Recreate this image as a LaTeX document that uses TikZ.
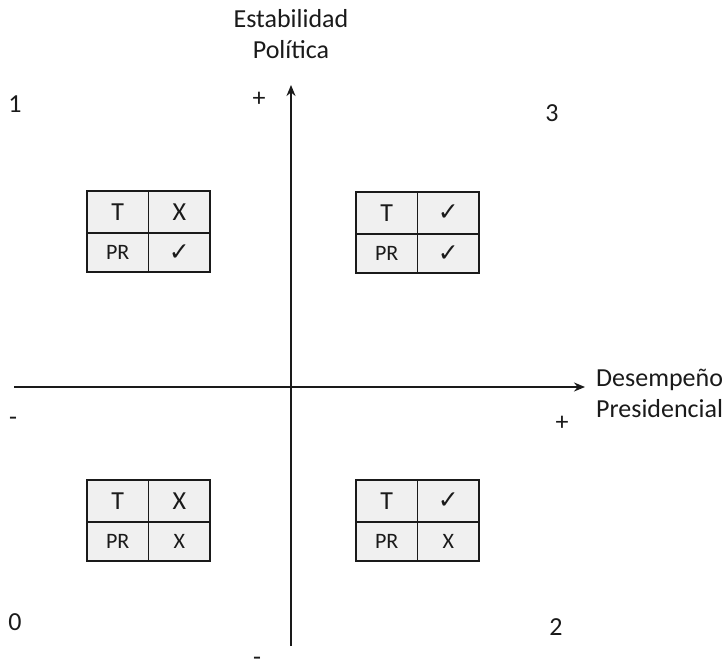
\documentclass[tikz,border=0pt]{standalone}
\usepackage{fontspec}
\setmainfont{Carlito}
\newfontfamily\symfont{DejaVu Sans}
\usetikzlibrary{arrows.meta}
\definecolor{cellgray}{HTML}{F0F0F0}
\definecolor{inkgray}{HTML}{1A1A1A}
\tikzset{
  lbl/.style={font=\fontsize{26}{31}\selectfont, text=inkgray, inner sep=0pt},
  cellbox/.style={draw=inkgray, fill=cellgray, line width=1.4pt, inner sep=0pt, outer sep=0pt,
    minimum width=61.5pt, text=inkgray},
  toprow/.style={cellbox, minimum height=42pt, font=\fontsize{26}{30}\selectfont},
  botrow/.style={cellbox, minimum height=39pt, font=\fontsize{22}{26}\selectfont},
  axisline/.style={line width=1.8pt, draw=inkgray, -{Stealth[length=11pt,width=9pt]}},
}
\newcommand{\chk}{{\symfont\fontsize{25}{28}\selectfont ✓}}
% #1 name, #2 left x, #3 top y, #4 upper-right text, #5 lower-right text
\newcommand{\quadtable}[5]{%
  \node[toprow, anchor=north west] (#1tl) at (#2,#3) {T};
  \node[toprow, anchor=west] (#1tr) at (#1tl.east) {#4};
  \node[botrow, anchor=north] (#1bl) at (#1tl.south) {PR};
  \node[botrow, anchor=west] (#1br) at (#1bl.east) {#5};
}
\begin{document}
\begin{tikzpicture}[x=1pt,y=-1pt]
\useasboundingbox (0,0) rectangle (727,669);
% axes
\coordinate (vbot) at (291,646);
\coordinate (vtop) at (291,85);
\coordinate (hleft) at (14,387);
\coordinate (hright) at (585,387);
\draw[axisline] (vbot) -- (vtop);
\draw[axisline] (hleft) -- (hright);
% axis titles
\node[lbl, align=center, anchor=north] (ytitle) at (291,9) {Estabilidad\\Política};
\node[lbl, align=left, anchor=west] (xtitle) at (596,393) {Desempeño\\Presidencial};
% signs
\node[lbl] (yplus) at (259,99) {+};
\node[lbl] (yminus) at (257,661) {-};
\node[lbl] (xminus) at (13,421) {-};
\node[lbl] (xplus) at (562,423) {+};
% quadrant numbers
\node[lbl] (q1) at (15,104) {1};
\node[lbl] (q3) at (552,113) {3};
\node[lbl] (q0) at (15,622) {0};
\node[lbl] (q2) at (556,627) {2};
% tables
\quadtable{tA}{87}{191}{X}{\chk}
\quadtable{tB}{356}{192}{\chk}{\chk}
\quadtable{tC}{87}{480}{X}{X}
\quadtable{tD}{356}{480}{\chk}{X}
\end{tikzpicture}
\end{document}
